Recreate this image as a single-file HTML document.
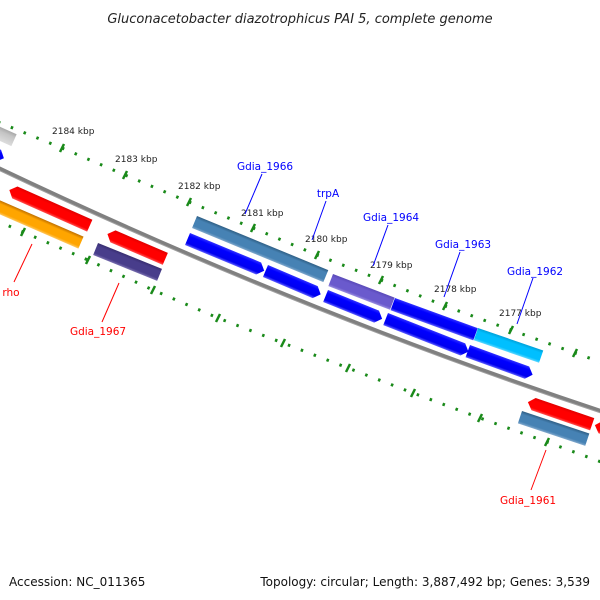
<!DOCTYPE html>
<html><head><meta charset="utf-8"><style>
html,body{margin:0;padding:0;background:#fff;}
svg{display:block;font-family:"DejaVu Sans","Liberation Sans",sans-serif;}
</style></head><body>
<svg width="600" height="600" viewBox="0 0 600 600" xmlns="http://www.w3.org/2000/svg">
<defs>
<linearGradient id="gBlue" x1="0" y1="0" x2="0" y2="1"><stop offset="0" stop-color="#3030ff"/><stop offset="0.25" stop-color="#0000ff"/><stop offset="0.8" stop-color="#0000f0"/><stop offset="1" stop-color="#6060ff"/></linearGradient>
<linearGradient id="gRed" x1="0" y1="0" x2="0" y2="1"><stop offset="0" stop-color="#e00000"/><stop offset="0.25" stop-color="#ff0000"/><stop offset="0.8" stop-color="#ff0000"/><stop offset="1" stop-color="#ff5050"/></linearGradient>
<linearGradient id="gSteel" x1="0" y1="0" x2="0" y2="1"><stop offset="0" stop-color="#2f5f85"/><stop offset="0.25" stop-color="#4682b4"/><stop offset="0.8" stop-color="#4682b4"/><stop offset="1" stop-color="#80a8cc"/></linearGradient>
<linearGradient id="gSlate" x1="0" y1="0" x2="0" y2="1"><stop offset="0" stop-color="#5a4ab8"/><stop offset="0.25" stop-color="#6a5acd"/><stop offset="0.8" stop-color="#6a5acd"/><stop offset="1" stop-color="#9a8ee0"/></linearGradient>
<linearGradient id="gCyan" x1="0" y1="0" x2="0" y2="1"><stop offset="0" stop-color="#00a0d8"/><stop offset="0.25" stop-color="#00bfff"/><stop offset="0.8" stop-color="#00bfff"/><stop offset="1" stop-color="#60d8ff"/></linearGradient>
<linearGradient id="gOrange" x1="0" y1="0" x2="0" y2="1"><stop offset="0" stop-color="#c07000"/><stop offset="0.25" stop-color="#ffa500"/><stop offset="0.8" stop-color="#ffa500"/><stop offset="1" stop-color="#ffc860"/></linearGradient>
<linearGradient id="gDslate" x1="0" y1="0" x2="0" y2="1"><stop offset="0" stop-color="#382e70"/><stop offset="0.25" stop-color="#483d8b"/><stop offset="0.8" stop-color="#483d8b"/><stop offset="1" stop-color="#7a70b0"/></linearGradient>
<linearGradient id="gGray" x1="0" y1="0" x2="0" y2="1"><stop offset="0" stop-color="#a8a8a8"/><stop offset="0.3" stop-color="#c4c4c4"/><stop offset="1" stop-color="#dcdcdc"/></linearGradient>
</defs>

<text x="300" y="23" font-size="13" font-style="italic" text-anchor="middle" fill="#222">Gluconacetobacter diazotrophicus PAI 5, complete genome</text>

<!-- tick rows -->
<polyline points="-2,122 62,148 125,175 189,202 253,228 317,255 381,280 445,306 511,330 575,353 640,376" fill="none" stroke="#1a8a1a" stroke-width="3" stroke-dasharray="2.5 11.3"/>
<polyline points="-42,204 23,232 88,260 153,290 218,318 283,343 348,368 413,393 480,418 547,442 612,466" fill="none" stroke="#1a8a1a" stroke-width="3" stroke-dasharray="2.5 11.3"/>
<g stroke="#1a8a1a" stroke-width="2.5">
<line x1="60" y1="152" x2="64" y2="144"/><line x1="123" y1="179" x2="127" y2="171"/><line x1="187" y1="206" x2="191" y2="198"/><line x1="251" y1="232" x2="255" y2="224"/><line x1="315" y1="259" x2="319" y2="251"/><line x1="379" y1="284" x2="383" y2="276"/><line x1="443" y1="310" x2="447" y2="302"/><line x1="509" y1="334" x2="513" y2="326"/><line x1="573" y1="357" x2="577" y2="349"/>
<line x1="21" y1="236" x2="25" y2="228"/><line x1="86" y1="264" x2="90" y2="256"/><line x1="151" y1="294" x2="155" y2="286"/><line x1="216" y1="322" x2="220" y2="314"/><line x1="281" y1="347" x2="285" y2="339"/><line x1="346" y1="372" x2="350" y2="364"/><line x1="411" y1="397" x2="415" y2="389"/><line x1="478" y1="422" x2="482" y2="414"/><line x1="545" y1="446" x2="549" y2="438"/>
</g>
<g font-size="9" fill="#222">
<text x="52" y="134">2184 kbp</text><text x="115" y="162">2183 kbp</text><text x="178" y="189">2182 kbp</text><text x="241" y="216">2181 kbp</text><text x="305" y="242">2180 kbp</text><text x="370" y="268">2179 kbp</text><text x="434" y="292">2178 kbp</text><text x="499" y="316">2177 kbp</text>
</g>

<!-- backbone -->
<path d="M-10,164 Q300,312 610,414" fill="none" stroke="#808080" stroke-width="4"/>
<path d="M-10,166 Q300,314 610,416" fill="none" stroke="#a0a0a0" stroke-width="1"/>

<!-- top row 1 -->
<g transform="translate(-40,109) rotate(24)"><path d="M0,0 H62 V13 H0 Z" fill="url(#gGray)"/></g>
<g transform="translate(197,216) rotate(22.4)"><path d="M0,0 H142 V13 H0 Z" fill="url(#gSteel)"/></g>
<g transform="translate(333,274) rotate(21)"><path d="M0,0 H66 V13 H0 Z" fill="url(#gSlate)"/></g>
<g transform="translate(395,298) rotate(20)"><path d="M0,0 H88 V13 H0 Z" fill="url(#gBlue)"/></g>
<g transform="translate(478,328) rotate(19)"><path d="M0,0 H69 V13 H0 Z" fill="url(#gCyan)"/></g>
<!-- top row 2 -->
<g transform="translate(-30,136) rotate(24)"><path d="M0,0 H34 L40,6.5 L34,13 H0 Z" fill="url(#gBlue)"/></g>
<g transform="translate(190,233) rotate(22.5)"><path d="M0,0 H77 L83,6.5 L77,13 H0 Z" fill="url(#gBlue)"/></g>
<g transform="translate(268,265) rotate(23)"><path d="M0,0 H54 L60,6.5 L54,13 H0 Z" fill="url(#gBlue)"/></g>
<g transform="translate(328,290) rotate(22)"><path d="M0,0 H55 L61,6.5 L55,13 H0 Z" fill="url(#gBlue)"/></g>
<g transform="translate(388,313) rotate(21.5)"><path d="M0,0 H83 L89,6.5 L83,13 H0 Z" fill="url(#gBlue)"/></g>
<g transform="translate(470,345) rotate(20)"><path d="M0,0 H63 L69,6.5 L63,13 H0 Z" fill="url(#gBlue)"/></g>
<!-- bottom row 1 -->
<g transform="translate(12,184) rotate(24)"><path d="M6,0 H88 V13 H6 L0,6.5 Z" fill="url(#gRed)"/></g>
<g transform="translate(110,228) rotate(23.3)"><path d="M6,0 H63 V13 H6 L0,6.5 Z" fill="url(#gRed)"/></g>
<g transform="translate(530,396) rotate(19)"><path d="M6,0 H68 V13 H6 L0,6.5 Z" fill="url(#gRed)"/></g>
<g transform="translate(597,419) rotate(19)"><path d="M6,0 H30 V13 H6 L0,6.5 Z" fill="url(#gRed)"/></g>
<!-- bottom row 2 -->
<g transform="translate(-10,196) rotate(23.5)"><path d="M0,0 H102 V13 H0 Z" fill="url(#gOrange)"/></g>
<g transform="translate(98,243) rotate(22)"><path d="M0,0 H69 V13 H0 Z" fill="url(#gDslate)"/></g>
<g transform="translate(522,411) rotate(18.5)"><path d="M0,0 H71 V13 H0 Z" fill="url(#gSteel)"/></g>

<!-- callouts -->
<g stroke="#0000ff" stroke-width="1">
<line x1="262" y1="174" x2="245" y2="214"/><line x1="326" y1="201" x2="312" y2="240"/><line x1="388" y1="225" x2="373" y2="266"/><line x1="460" y1="252" x2="444" y2="297"/><line x1="533" y1="278" x2="517" y2="324"/>
</g>
<g stroke="#ff0000" stroke-width="1">
<line x1="32" y1="244" x2="14" y2="282"/><line x1="119" y1="283" x2="102" y2="322"/><line x1="546" y1="450" x2="531" y2="490"/>
</g>
<g font-size="10.5" fill="#0000ff" text-anchor="middle">
<text x="265" y="170">Gdia_1966</text><text x="328" y="197">trpA</text><text x="391" y="221">Gdia_1964</text><text x="463" y="248">Gdia_1963</text><text x="535" y="275">Gdia_1962</text>
</g>
<g font-size="10.5" fill="#ff0000" text-anchor="middle">
<text x="11" y="296">rho</text><text x="98" y="335">Gdia_1967</text><text x="528" y="504">Gdia_1961</text>
</g>

<text x="9" y="586" font-size="12" fill="#111">Accession: NC_011365</text>
<text x="590" y="586" font-size="12" fill="#111" text-anchor="end">Topology: circular; Length: 3,887,492 bp; Genes: 3,539</text>
</svg>
</body></html>
